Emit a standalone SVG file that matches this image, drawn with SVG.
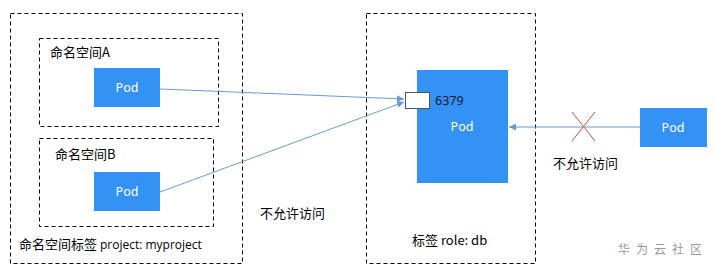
<svg xmlns="http://www.w3.org/2000/svg" width="716" height="272" viewBox="0 0 716 272">
<defs>
<style>
.dash{fill:none;stroke:#000;stroke-width:1;stroke-dasharray:4 3}
.pod{fill:#3592f5}
.pt{font-family:"Noto Sans","Open Sans",sans-serif;font-size:12.5px;fill:#fff;text-anchor:middle}
.t{font-family:"Noto Sans CJK SC","Noto Sans",sans-serif;font-size:13px;fill:#000}
.c{fill:none;stroke:#6a9bd0;stroke-width:1}
</style>
<marker id="ah" viewBox="0 0 10 10" refX="10" refY="5" markerWidth="7" markerHeight="7" markerUnits="userSpaceOnUse" orient="auto">
<path d="M0,0 L10,5 L0,10 z" fill="#6a9bd0"/>
</marker>
</defs>
<rect width="716" height="272" fill="#fff"/>
<g id="project-ns">
<rect class="dash" x="10.5" y="13.5" width="232" height="250"/>
<text class="t" x="19" y="249">命名空间标签 <tspan font-family="Open Sans,sans-serif" font-size="12">project: myproject</tspan></text>
</g>
<g id="ns-a">
<rect class="dash" x="39.5" y="38.5" width="179" height="88"/>
<text class="t" x="50" y="57">命名空间A</text>
</g>
<g id="pod-a">
<rect class="pod" x="94" y="68" width="66" height="39"/>
<text class="pt" x="127" y="92">Pod</text>
</g>
<g id="ns-b">
<rect class="dash" x="39.5" y="138.5" width="174" height="88"/>
<text class="t" x="55" y="159">命名空间B</text>
</g>
<g id="pod-b">
<rect class="pod" x="94" y="172" width="66" height="39"/>
<text class="pt" x="127" y="196">Pod</text>
</g>
<g id="db-ns">
<rect class="dash" x="366.5" y="13.5" width="169" height="250"/>
<text class="t" x="412" y="245">标签 role: db</text>
</g>
<g id="db-pod">
<rect class="pod" x="417" y="70" width="91" height="113"/>
<text class="pt" x="462" y="131">Pod</text>
<rect x="405.5" y="92.5" width="24" height="16" fill="#fff" stroke="#44546a" stroke-width="1"/>
<text x="435" y="105" font-family="Noto Sans,Open Sans,sans-serif" font-size="12.5" fill="#0d1b33">6379</text>
</g>
<g id="pod-c">
<rect class="pod" x="640" y="108" width="67" height="39"/>
<text class="pt" x="673" y="132">Pod</text>
</g>
<g id="connectors">
<line class="c" x1="160" y1="89" x2="404" y2="99" marker-end="url(#ah)"/>
<line class="c" x1="160" y1="192" x2="404" y2="102" marker-end="url(#ah)"/>
<line class="c" x1="640" y1="127" x2="509" y2="127" marker-end="url(#ah)"/>
<line x1="572" y1="112" x2="595" y2="141" stroke="#e04848" stroke-width="1"/>
<line x1="595" y1="112" x2="572" y2="141" stroke="#e04848" stroke-width="1"/>
</g>
<text class="t" x="260" y="218">不允许访问</text>
<text class="t" x="553" y="168">不允许访问</text>
<text x="618" y="254" font-family="Noto Sans CJK SC,sans-serif" font-size="12" fill="#999" letter-spacing="6">华为云社区</text>
</svg>
